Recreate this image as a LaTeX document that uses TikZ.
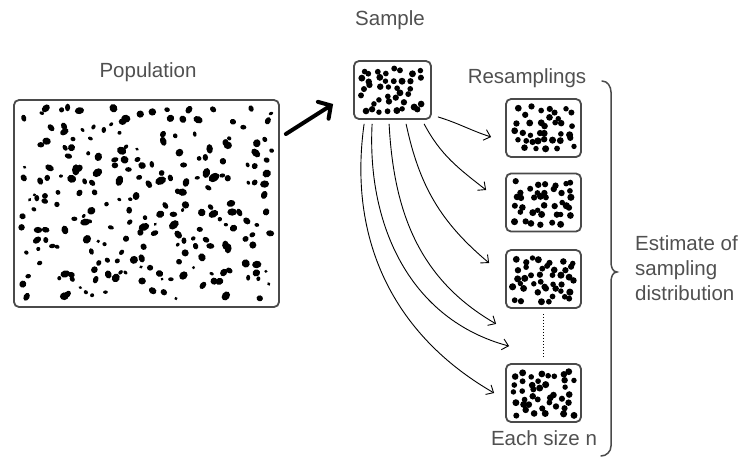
\documentclass[tikz,border=0pt]{standalone}
\usepackage{fontspec}
\setmainfont{Liberation Sans}
\usetikzlibrary{arrows.meta,calc}

\definecolor{edgegray}{HTML}{4A4A4A}
\definecolor{textgray}{HTML}{505050}

\tikzset{
  box/.style={draw=edgegray, line width=1.8pt, rounded corners=5pt, fill=white, inner sep=0pt},
  smallbox/.style={box, minimum width=75pt, minimum height=58pt},
  caption/.style={text=textgray, font=\fontsize{20.5}{25}\selectfont, inner sep=0pt},
  resample/.style={draw=black, line width=0.9pt, -{Straight Barb[length=6pt,width=11pt]}},
  bigarrow/.style={draw=black, line width=4pt, line cap=round,
    -{Straight Barb[length=9pt,width=20pt,line cap=round]}},
  brace/.style={draw=edgegray, line width=1.5pt, line cap=round}
}

% scattered dots filling a small box (node name, seed)
\newcommand\smalldots[2]{%
  \pgfmathsetseed{#2}%
  \foreach \ci in {0,...,7}{%
    \foreach \ri in {0,...,5}{%
      \pgfmathsetmacro\keep{rnd}%
      \ifdim\keep pt>0.13pt
        \pgfmathsetmacro\px{6+8.0*\ci+4.0+6.5*(rnd-0.5)}%
        \pgfmathsetmacro\py{6+7.7*\ri+3.85+6.5*(rnd-0.5)}%
        \pgfmathsetmacro\rr{2.7+0.9*rnd}%
        \fill ($(#1.south west)+(\px,\py)$) circle (\rr);
      \fi
    }%
  }%
}

\begin{document}
\begin{tikzpicture}[x=1pt,y=1pt]
\useasboundingbox (0,0) rectangle (742,-458);

% boxes
\node[box, minimum width=265pt, minimum height=207pt] (pop) at (146.5,-203.5) {};
\node[smallbox, minimum width=77pt] (sample) at (392.5,-90) {};
\node[smallbox] (r1) at (543.5,-128) {};
\node[smallbox] (r2) at (543.5,-202.5) {};
\node[smallbox] (r3) at (543.5,-279) {};
\node[smallbox] (r4) at (543.5,-393) {};

% population dots
\pgfmathsetseed{4242}
\foreach \ci in {0,...,21}{%
  \foreach \ri in {0,...,16}{%
    \pgfmathsetmacro\keep{rnd}%
    \ifdim\keep pt>0.32pt
      \pgfmathsetmacro\px{20+11.5*\ci+5.75+10*(rnd-0.5)}%
      \pgfmathsetmacro\py{106+11.4*\ri+5.7+10*(rnd-0.5)}%
      \pgfmathsetmacro\rr{1.5+2.5*rnd}%
      \pgfmathsetmacro\el{1+0.5*rnd}%
      \pgfmathsetmacro\rot{180*rnd}%
      \fill[rotate around={\rot:(\px,-\py)}] (\px,-\py)
        ellipse [x radius=\rr*\el, y radius=\rr];
    \fi
  }%
}

% sample and resample dots
\smalldots{sample}{11}
\smalldots{r1}{23}
\smalldots{r2}{37}
\smalldots{r3}{51}
\smalldots{r4}{67}

% captions
\node[caption, anchor=base] (tpop) at (148,-77) {Population};
\node[caption, anchor=base] (tsample) at (390,-25) {Sample};
\node[caption, anchor=base] (tres) at (527,-83) {Resamplings};
\node[caption, anchor=base] (tsize) at (544,-445) {Each size n};
\node[caption, anchor=base west] (test) at (635,-250) {Estimate of};
\node[caption, anchor=base west] (tsamp) at (635,-275) {sampling};
\node[caption, anchor=base west] (tdist) at (635,-300) {distribution};

% population to sample
\coordinate (bigtail) at ($(pop.east)+(6,69.5)$);
\coordinate (bighead) at ($(sample.west)+(-20,-14)$);
\draw[bigarrow] (bigtail) -- (bighead);

% resampling arrows
\coordinate (s1) at ($(sample.south east)+(6,3)$);
\coordinate (s2) at ($(sample.south west)+(71,-4)$);
\coordinate (s3) at ($(sample.south west)+(53,-4)$);
\coordinate (s4) at ($(sample.south west)+(36,-4)$);
\coordinate (s5) at ($(sample.south west)+(19,-4)$);
\coordinate (s6) at ($(sample.south west)+(11,-4)$);
\coordinate (e1) at ($(r1.west)+(-14,-9)$);
\coordinate (e2) at ($(r2.west)+(-19,12.5)$);
\coordinate (e3) at ($(r3.west)+(-16,16)$);
\coordinate (e4) at ($(r3.south west)+(-9,-15)$);
\coordinate (e5) at ($(r4.north west)+(4,17)$);
\coordinate (e6) at ($(r4.west)+(-11,0)$);

\draw[resample] (s1) to[out=-17,in=162] (e1);
\draw[resample] (s2) to[out=-62,in=142] (e2);
\draw[resample] (s3) to[out=-78,in=140] (e3);
\draw[resample] (s4) to[out=-87,in=150] (e4);
\draw[resample] (s5) to[out=-93,in=165] (e5);
\draw[resample] (s6) to[out=-98,in=150] (e6);

% gap between the third and the last resample
\draw[black, line width=1pt, dotted, shorten <=5pt, shorten >=6pt] (r3.south) -- (r4.north);

% brace grouping the resamples
\draw[brace] (602,-81) to[out=0,in=90] (611,-92) -- (611,-262)
  to[out=-90,in=180] (617,-272) to[out=180,in=90] (611,-282)
  -- (611,-446) to[out=-90,in=0] (601,-456);
\end{tikzpicture}
\end{document}
